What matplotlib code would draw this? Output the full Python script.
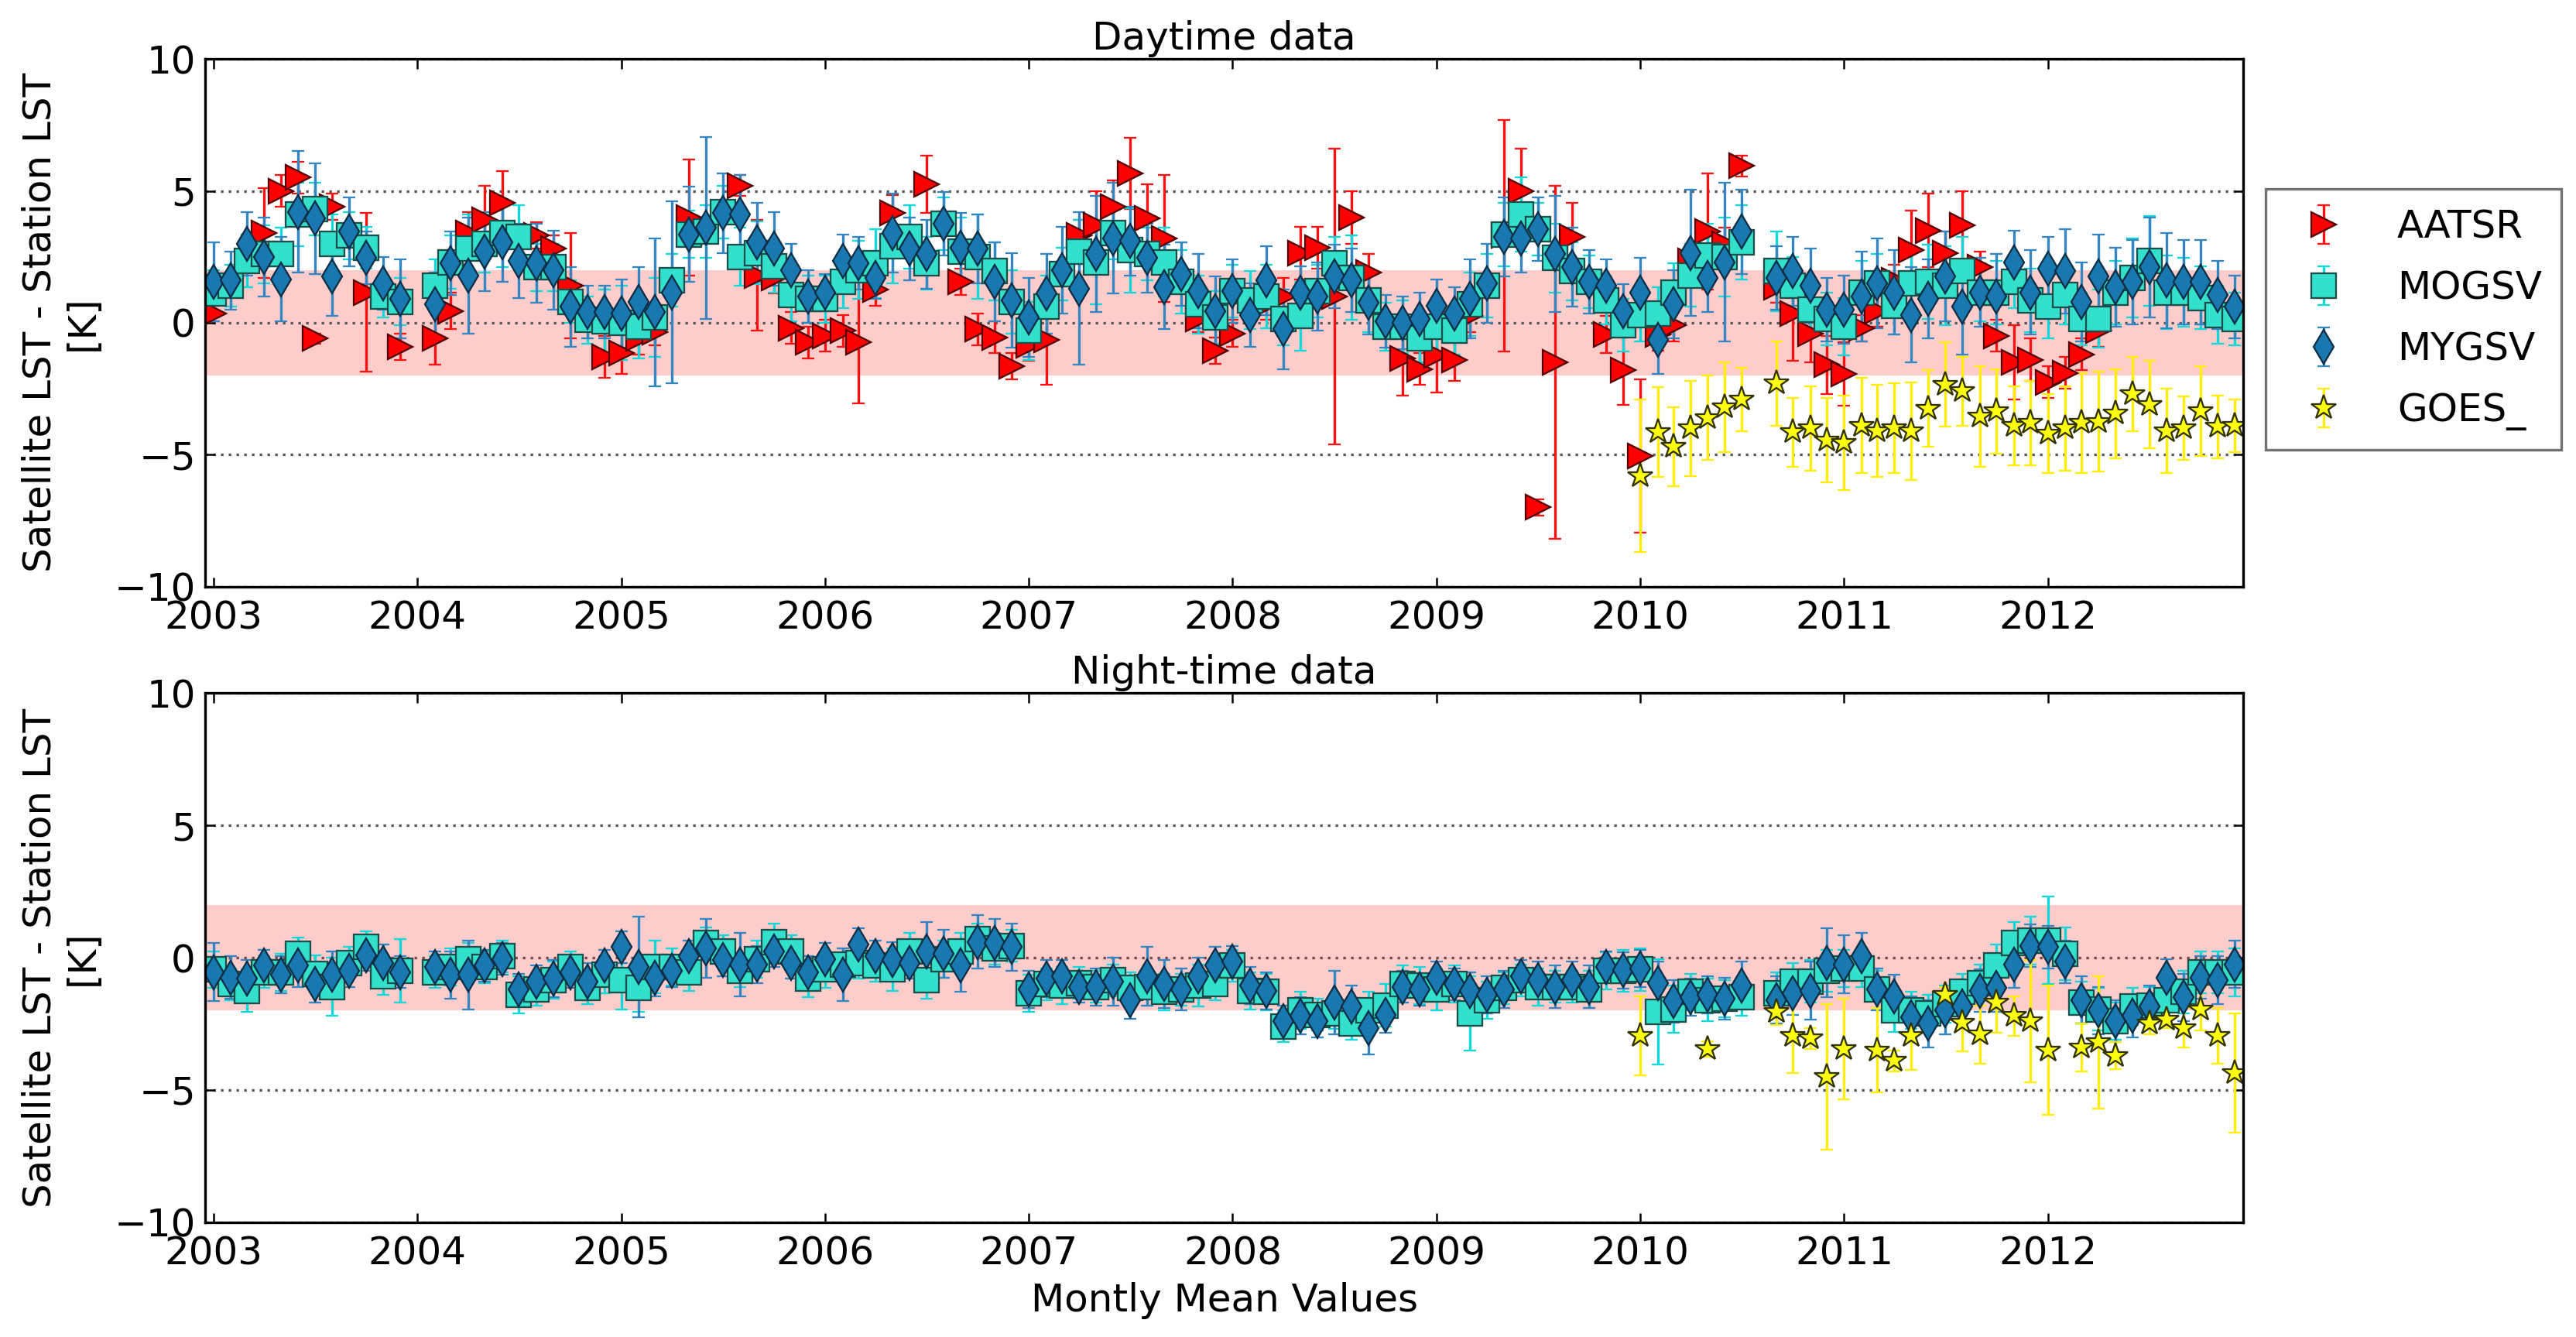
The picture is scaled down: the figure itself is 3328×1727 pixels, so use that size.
import numpy as np
import pandas as pd
import matplotlib
matplotlib.use("Agg")
import matplotlib.pyplot as plt
import matplotlib.dates as mdates

nan = np.nan

# monthly dates, Jan 2003 .. Dec 2012
months = pd.date_range("2003-01-01", periods=120, freq="MS")

#%% daytime data (one row per year)
aatsr_day = [
    [0.35, nan, nan, 3.4, 5.0, 5.5, -0.6, 4.4, nan, 1.15, nan, -0.9],
    [nan, -0.6, 0.45, 3.4, 3.9, 4.55, nan, 3.3, 2.8, 1.4, nan, -1.3],
    [-1.15, -0.6, -0.35, nan, 4.0, nan, nan, 5.2, 1.8, 1.7, -0.2, -0.75],
    [-0.5, -0.3, -0.75, 1.25, 4.15, nan, 5.25, nan, 1.55, -0.25, -0.55, -1.65],
    [-0.85, -0.65, nan, 3.3, 3.7, 4.4, 5.65, 3.95, 3.2, nan, 0.15, -1.05],
    [-0.4, nan, 0.7, 1.0, 2.65, 2.85, 1.0, 4.0, 1.9, nan, -1.35, -1.75],
    [-1.25, -1.4, 0.25, nan, 3.3, 5.0, -7.0, -1.5, 3.25, nan, -0.45, -1.8],
    [-5.05, -0.45, -0.1, 2.35, 3.45, 3.0, 5.95, nan, 1.35, 0.35, -0.4, -1.6],
    [-1.95, -0.2, 0.45, 1.6, 2.75, 3.5, 2.65, 3.7, 2.1, -0.5, -1.5, -1.4],
    [-2.25, -1.9, -1.2, -0.3, nan, nan, nan, nan, nan, nan, nan, nan],
]
aatsr_day_err = [
    [0.3, 0, 0, 1.7, 0.6, 0.6, 0.2, 0.5, 0, 3.0, 0, 0.5],
    [0, 1.0, 0.7, 0.8, 1.3, 1.2, 0, 0.5, 0.5, 2.0, 0, 0.8],
    [0.8, 0.6, 0.5, 0, 2.2, 0, 0, 0.4, 2.1, 0.6, 0.6, 0.6],
    [0.6, 0.6, 2.3, 0.6, 0.7, 0, 1.1, 0, 0.5, 0.6, 0.6, 0.5],
    [0.6, 1.7, 0, 0.6, 1.3, 1.0, 1.35, 1.3, 2.4, 0, 0.5, 0.5],
    [0.5, 0, 0.6, 0.7, 1.0, 0.8, 5.6, 1.0, 0.7, 0, 1.4, 0.6],
    [1.4, 0.8, 0.6, 0, 4.4, 1.6, 0.3, 6.7, 1.3, 0, 0.7, 1.3],
    [2.9, 0.6, 0.6, 0.6, 2.2, 0.6, 0.4, 0, 0.6, 1.8, 1.1, 1.1],
    [1.2, 0.5, 0.6, 0.6, 1.5, 1.4, 0.8, 1.3, 0.6, 0.6, 1.4, 0.8],
    [0.6, 0.6, 0.6, 0.6, 0, 0, 0, 0, 0, 0, 0, 0],
]
mogsv_day = [
    [1.1, 1.4, 2.35, 2.6, 2.6, 4.1, 4.3, 3.0, 3.3, 2.85, 1.0, 0.8],
    [nan, 1.4, 2.3, 2.8, 3.0, 3.4, 3.25, 2.1, 2.1, 0.8, 0.1, 0.05],
    [0.0, -0.15, 0.2, 1.6, 3.35, 3.45, 4.2, 2.5, 2.65, 2.15, 1.05, 0.9],
    [0.9, 1.55, 2.0, 2.25, 2.9, 3.25, 2.25, 3.75, 2.7, 2.5, 1.95, 0.8],
    [-0.3, 0.6, 1.85, 2.7, 2.3, 3.4, 2.75, 2.6, 2.3, 1.55, 0.7, 0.2],
    [1.2, 0.85, 1.0, 0.15, 0.25, 1.2, 2.25, 1.7, 0.85, -0.15, -0.15, -0.6],
    [-0.15, -0.3, 0.7, 1.4, 3.35, 4.1, 3.55, 2.45, 1.95, 1.55, 0.85, -0.1],
    [0.3, 0.35, 1.15, 1.8, 2.55, 2.5, 3.05, nan, 1.95, 1.4, 0.5, 0.15],
    [-0.15, 1.15, 1.5, 0.65, 1.5, 1.55, 1.4, 1.95, 1.15, 1.15, 1.55, 0.85],
    [0.6, 1.05, 0.15, 0.15, 1.15, 1.7, 2.35, 1.15, 1.15, 0.95, 0.3, 0.15],
]
mogsv_day_err = [
    [0.9, 0.8, 1.0, 1.1, 1.0, 1.2, 1.0, 1.1, 0.9, 0.8, 0.8, 0.9],
    [0, 1.0, 1.0, 1.3, 1.1, 1.3, 1.2, 0.9, 0.9, 0.8, 0.9, 1.2],
    [1.4, 1.2, 1.5, 1.0, 0.9, 1.0, 1.0, 1.1, 1.2, 1.0, 1.0, 0.9],
    [0.9, 1.0, 1.1, 1.3, 1.4, 1.2, 1.0, 1.0, 1.3, 1.6, 1.1, 1.2],
    [1.1, 1.2, 1.0, 1.2, 1.6, 1.0, 1.6, 1.0, 1.3, 1.2, 1.1, 1.0],
    [1.0, 1.1, 1.2, 1.0, 1.3, 1.0, 1.0, 1.6, 1.2, 0.9, 1.0, 0.9],
    [1.0, 0.9, 1.2, 1.2, 1.2, 1.4, 1.0, 1.3, 1.1, 1.0, 0.9, 1.0],
    [1.0, 1.0, 1.1, 1.2, 1.2, 1.5, 1.4, 0, 1.5, 1.1, 1.0, 1.0],
    [1.1, 1.2, 1.1, 1.1, 1.2, 1.4, 1.5, 1.3, 1.1, 1.2, 1.0, 1.2],
    [1.2, 1.1, 1.0, 1.1, 1.2, 1.5, 1.7, 1.4, 1.3, 1.2, 1.1, 1.0],
]
mygsv_day = [
    [1.55, 1.6, 3.0, 2.5, 1.65, 4.2, 3.95, 1.75, 3.45, 2.45, 1.5, 0.9],
    [nan, 0.7, 2.25, 1.8, 2.7, 3.05, 2.35, 2.25, 2.0, 0.6, 0.4, 0.4],
    [0.35, 0.8, 0.4, 1.15, 3.35, 3.6, 4.15, 4.1, 3.05, 2.8, 2.0, 1.0],
    [1.15, 2.35, 2.25, 1.7, 3.4, 2.8, 2.6, 3.75, 2.85, 2.8, 1.55, 0.85],
    [0.2, 1.1, 2.0, 1.3, 2.6, 3.2, 3.1, 2.45, 1.35, 1.85, 1.2, 0.45],
    [1.2, 0.3, 1.6, -0.25, 1.15, 1.0, 1.75, 1.6, 0.75, 0.05, 0.0, 0.15],
    [0.65, 0.35, 0.9, 1.5, 3.25, 3.2, 3.55, 2.6, 2.1, 1.55, 1.4, 0.45],
    [1.15, -0.65, 0.7, 2.65, 1.7, 2.3, 3.45, nan, 1.7, 1.95, 1.4, 0.5],
    [0.5, 1.0, 1.5, 1.15, 0.3, 0.9, 1.75, 0.6, 1.15, 1.0, 2.3, 1.15],
    [2.05, 1.95, 0.8, 1.75, 1.35, 1.55, 2.1, 1.6, 1.55, 1.55, 1.05, 0.6],
]
mygsv_day_err = [
    [1.5, 1.1, 1.2, 1.5, 1.6, 2.3, 2.1, 1.5, 1.3, 1.0, 1.0, 1.5],
    [0, 1.2, 1.2, 2.2, 1.5, 1.5, 1.4, 1.5, 1.5, 1.5, 1.0, 1.0],
    [1.3, 1.3, 2.8, 3.45, 1.8, 3.45, 1.5, 1.5, 1.5, 1.4, 1.0, 1.0],
    [0.7, 1.0, 1.0, 0.8, 1.5, 1.2, 1.3, 1.2, 1.3, 1.3, 1.5, 1.8],
    [1.5, 1.5, 1.65, 2.9, 2.2, 2.1, 1.3, 1.3, 1.6, 1.2, 1.4, 1.3],
    [1.2, 1.2, 1.3, 1.5, 1.0, 1.3, 1.2, 1.2, 1.2, 1.0, 1.0, 1.0],
    [1.0, 1.0, 1.5, 1.5, 1.5, 1.3, 1.2, 2.2, 1.5, 1.2, 1.0, 1.0],
    [1.3, 1.3, 1.3, 2.4, 1.3, 3.0, 1.6, 0, 1.2, 1.3, 1.4, 1.2],
    [1.3, 1.7, 1.7, 1.6, 1.8, 1.5, 1.7, 1.8, 1.3, 1.6, 1.2, 1.6],
    [1.2, 1.6, 1.5, 1.6, 1.5, 1.6, 1.9, 1.8, 1.6, 1.6, 1.3, 1.2],
]
goes_day = [
    [nan] * 12, [nan] * 12, [nan] * 12, [nan] * 12, [nan] * 12,
    [nan] * 12, [nan] * 12,
    [-5.8, -4.15, -4.7, -4.0, -3.6, -3.2, -2.9, nan, -2.3, -4.15, -4.0, -4.45],
    [-4.55, -3.9, -4.1, -4.0, -4.1, -3.25, -2.35, -2.6, -3.55, -3.35, -3.9, -3.8],
    [-4.2, -4.0, -3.8, -3.75, -3.45, -2.7, -3.1, -4.1, -4.0, -3.35, -3.95, -3.9],
]
goes_day_err = [
    [0] * 12, [0] * 12, [0] * 12, [0] * 12, [0] * 12, [0] * 12, [0] * 12,
    [2.9, 1.7, 1.5, 1.8, 1.6, 1.7, 1.2, 0, 1.6, 1.3, 1.6, 1.6],
    [1.8, 1.8, 1.75, 1.7, 1.85, 1.45, 1.6, 1.3, 1.9, 1.6, 1.5, 1.6],
    [1.5, 1.6, 1.9, 1.9, 1.7, 1.4, 1.65, 1.6, 1.2, 1.7, 1.2, 1.0],
]

#%% night-time data
mogsv_night = [
    [-0.45, -1.0, -1.25, -0.55, -0.55, 0.15, -0.6, -1.1, -0.2, 0.4, -0.7, -0.5],
    [nan, -0.55, -0.35, -0.05, -0.35, 0.05, -1.4, -1.2, -0.85, -0.35, -1.15, -0.65],
    [-0.85, -1.15, -0.35, -0.35, -0.55, 0.55, 0.25, -0.5, -0.05, 0.6, 0.25, -0.8],
    [-0.45, -0.25, -0.2, -0.3, -0.45, 0.25, -0.85, -0.05, 0.25, 0.7, 0.35, 0.45],
    [-1.35, -1.0, -1.05, -0.95, -1.1, -0.85, -1.15, -1.1, -1.3, -1.2, -1.05, -1.0],
    [-0.3, -1.25, -1.3, -2.6, -2.0, -2.15, -2.1, -2.5, -2.0, -1.8, -1.0, -1.05],
    [-1.2, -1.0, -2.1, -1.6, -1.15, -0.85, -1.1, -1.1, -1.1, -1.2, -0.5, -0.5],
    [-0.45, -2.05, -1.95, -1.3, -1.6, -1.55, -1.5, nan, -1.35, -0.9, -0.9, -0.5],
    [-0.4, -0.4, -1.2, -2.0, -2.0, -2.1, -1.75, -1.3, -0.95, -0.3, 0.55, 0.65],
    [0.65, 0.15, -1.7, -1.95, -2.4, -1.85, -1.8, -1.6, -1.3, -0.55, -0.55, -0.55],
]
mogsv_night_err = [
    [0.7, 0.6, 0.8, 0.6, 0.7, 0.6, 0.7, 1.1, 0.6, 0.6, 0.7, 1.2],
    [0, 0.6, 0.7, 0.6, 0.6, 0.6, 0.7, 0.6, 0.7, 0.6, 0.6, 0.7],
    [1.1, 0.9, 1.0, 0.7, 0.7, 0.6, 0.6, 0.6, 0.7, 0.7, 0.6, 0.7],
    [0.7, 0.6, 0.6, 0.6, 0.8, 0.7, 0.7, 0.7, 0.7, 0.6, 0.6, 0.6],
    [0.7, 0.6, 0.7, 0.6, 0.6, 0.6, 0.6, 0.7, 0.7, 0.6, 0.8, 0.6],
    [0.6, 0.7, 0.7, 0.6, 0.7, 0.6, 0.6, 0.6, 0.7, 0.8, 0.7, 0.7],
    [0.8, 0.7, 1.4, 0.7, 0.6, 0.6, 0.7, 0.6, 0.6, 0.7, 0.7, 0.8],
    [0.8, 2.0, 0.9, 0.7, 0.8, 0.7, 0.7, 0, 0.8, 0.7, 0.8, 0.8],
    [0.7, 0.7, 0.7, 0.8, 0.7, 0.7, 0.7, 0.7, 0.7, 0.8, 0.8, 0.9],
    [1.65, 1.0, 0.8, 0.8, 0.7, 0.7, 0.7, 0.7, 0.8, 0.8, 0.8, 0.9],
]
mygsv_night = [
    [-0.55, -0.75, -0.8, -0.3, -0.65, -0.3, -1.0, -0.65, -0.5, 0.1, -0.2, -0.55],
    [nan, -0.35, -0.65, -0.65, -0.3, -0.05, -1.2, -0.9, -0.8, -0.55, -0.9, -0.3],
    [0.4, -0.35, -0.75, -0.5, 0.05, 0.35, -0.1, -0.25, -0.25, 0.25, -0.2, -0.55],
    [-0.05, -0.65, 0.5, 0.05, -0.1, -0.2, 0.25, 0.15, -0.3, 0.6, 0.55, 0.4],
    [-1.2, -0.8, -0.7, -1.1, -1.1, -0.9, -1.6, -0.7, -1.0, -1.2, -0.7, -0.3],
    [-0.15, -1.05, -1.25, -2.4, -2.2, -2.4, -1.7, -1.85, -2.65, -2.15, -1.1, -1.2],
    [-0.75, -1.0, -1.25, -1.4, -1.2, -0.7, -0.85, -1.1, -0.85, -1.1, -0.35, -0.48],
    [-0.4, -0.95, -1.65, -1.5, -1.4, -1.55, -1.05, nan, -1.6, -1.35, -1.25, -0.2],
    [-0.25, 0.05, -1.2, -1.45, -2.25, -2.5, -2.0, -1.85, -1.25, -1.15, -0.25, 0.45],
    [0.4, -0.15, -1.6, -2.0, -2.4, -2.2, -1.85, -0.75, -1.5, -0.75, -0.85, -0.25],
]
mygsv_night_err = [
    [1.1, 0.8, 0.7, 0.6, 0.7, 0.8, 0.7, 0.9, 0.6, 0.6, 0.7, 0.6],
    [0, 0.6, 0.9, 1.3, 0.6, 0.6, 0.6, 0.6, 0.7, 0.6, 0.7, 0.6],
    [0.6, 1.9, 0.7, 0.6, 0.6, 1.1, 0.6, 1.2, 0.7, 0.6, 0.6, 0.6],
    [0.6, 1.0, 0.6, 0.6, 0.7, 0.6, 1.1, 0.9, 1.0, 1.0, 0.9, 0.9],
    [0.7, 0.7, 0.6, 0.6, 0.7, 0.9, 0.7, 1.1, 0.9, 0.8, 0.7, 0.7],
    [0.6, 0.7, 0.7, 0.6, 0.7, 0.6, 1.2, 0.8, 1.0, 0.7, 0.6, 0.6],
    [0.6, 0.6, 0.7, 0.7, 0.7, 0.6, 0.7, 0.8, 0.7, 0.8, 0.6, 0.7],
    [0.7, 0.8, 0.8, 0.7, 0.7, 0.8, 0.9, 0, 0.9, 0.8, 1.1, 1.3],
    [1.1, 0.9, 0.8, 0.8, 0.8, 0.9, 0.9, 0.8, 0.8, 0.9, 0.9, 0.8],
    [0.8, 0.8, 0.9, 0.9, 0.8, 0.8, 0.8, 0.7, 0.9, 0.8, 0.9, 0.9],
]
goes_night = [
    [nan] * 12, [nan] * 12, [nan] * 12, [nan] * 12, [nan] * 12,
    [nan] * 12, [nan] * 12,
    [-2.95, nan, nan, nan, -3.45, nan, nan, nan, -2.05, -2.95, -3.05, -4.5],
    [-3.45, nan, -3.5, -3.9, -2.95, nan, -1.4, -2.45, -2.9, -1.7, -2.2, -2.4],
    [-3.5, nan, -3.4, -3.2, -3.7, nan, -2.5, -2.35, -2.65, -1.95, -2.95, -4.35],
]
goes_night_err = [
    [0] * 12, [0] * 12, [0] * 12, [0] * 12, [0] * 12, [0] * 12, [0] * 12,
    [1.5, 0, 0, 0, 0.3, 0, 0, 0, 0.5, 1.4, 0.4, 2.75],
    [1.9, 0, 1.6, 0.4, 1.3, 0, 0.3, 1.1, 1.1, 1.15, 0.75, 2.3],
    [2.45, 0, 0.9, 2.5, 0.5, 0, 0.4, 0.3, 0.75, 0.8, 1.05, 2.25],
]

series_names = ["AATSR", "MOGSV", "MYGSV", "GOES_"]

#%%
def flat(rows):
    return np.array(rows, dtype=float).ravel()

# marker / colour setup per series
styles = {
    "AATSR": dict(fmt=">", ms=7.5, mfc="#ff0000", mec="#550000", ecolor="#ff1010"),
    "MOGSV": dict(fmt="s", ms=7.5, mfc="#33e0cc", mec="#1c4f4a", ecolor="#10d8d8"),
    "MYGSV": dict(fmt="d", ms=7.5, mfc="#1a78b0", mec="#0e2f45", ecolor="#3585c0"),
    "GOES_": dict(fmt="*", ms=8, mfc="#ffff10", mec="#333300", ecolor="#ffee00"),
}

day = {"AATSR": (aatsr_day, aatsr_day_err), "MOGSV": (mogsv_day, mogsv_day_err),
       "MYGSV": (mygsv_day, mygsv_day_err), "GOES_": (goes_day, goes_day_err)}
night = {"MOGSV": (mogsv_night, mogsv_night_err), "MYGSV": (mygsv_night, mygsv_night_err),
         "GOES_": (goes_night, goes_night_err)}

plt.rcParams["font.family"] = "DejaVu Sans"
plt.rcParams["font.size"] = 12
plt.rcParams["axes.unicode_minus"] = True

fig = plt.figure(figsize=(3329 / 300, 1727 / 300), dpi=300)
ax1 = fig.add_axes([0.0797, 0.5613, 0.7908, 0.3946])
ax2 = fig.add_axes([0.0797, 0.0858, 0.7908, 0.3958])


def draw_panel(ax, data, title, grid_over_band):
    ax.axhspan(-2, 2, color="red", alpha=0.2, lw=0, zorder=1)
    handles = []
    for name in series_names:
        if name not in data:
            continue
        vals, errs = data[name]
        st = styles[name]
        h = ax.errorbar(months, flat(vals), yerr=flat(errs), fmt=st["fmt"],
                        ms=st["ms"], mfc=st["mfc"], mec=st["mec"], mew=0.55,
                        ecolor=st["ecolor"], elinewidth=0.8, capsize=2,
                        capthick=0.8, label=name, zorder=2)
        handles.append(h)
    ax.set_ylim(-10, 10)
    ax.set_yticks([-10, -5, 0, 5, 10])
    ax.set_xlim(months[0] - pd.Timedelta(days=15), months[-1] + pd.Timedelta(days=15))
    ax.xaxis.set_major_locator(mdates.YearLocator())
    ax.xaxis.set_major_formatter(mdates.DateFormatter("%Y"))
    ax.tick_params(direction="in", top=True, right=True, length=3, width=0.6)
    ax.tick_params(axis="y", pad=3)
    ax.tick_params(axis="x", pad=4)
    ax.yaxis.grid(True, linestyle=(0, (1, 2)), color="0.35", lw=0.8)
    ax.set_axisbelow("line" if grid_over_band else True)
    for sp in ax.spines.values():
        sp.set_linewidth(0.8)
    ax.set_title(title, fontsize=12, pad=3)
    ax.set_ylabel("Satellite LST - Station LST\n[K]", fontsize=12)
    return handles


hd = draw_panel(ax1, day, "Daytime data", True)
draw_panel(ax2, night, "Night-time data", False)
ax2.set_xlabel("Montly Mean Values", fontsize=12, labelpad=3)

leg = ax1.legend(handles=hd, labels=series_names, loc="center left",
                 bbox_to_anchor=(1.011, 0.506), numpoints=1, fancybox=False,
                 fontsize=12, borderaxespad=0, labelspacing=0.62, borderpad=0.5,
                 handlelength=2.0, handletextpad=0.9)
leg.get_frame().set_edgecolor("0.3")
leg.get_frame().set_linewidth(0.8)

fig.savefig("out.png", dpi=300)
